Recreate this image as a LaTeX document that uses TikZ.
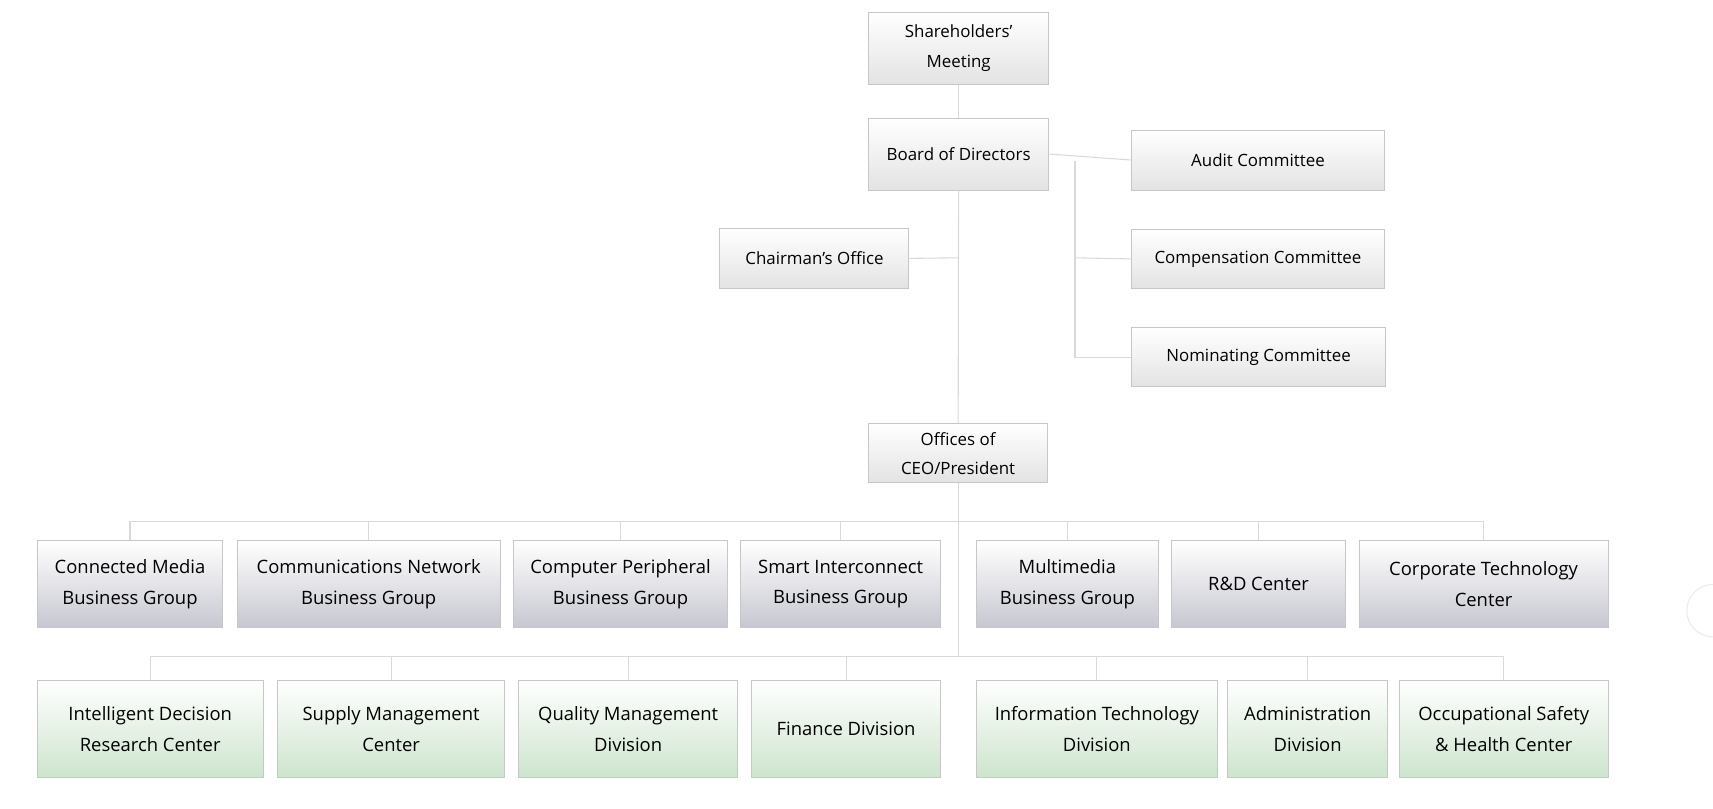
\documentclass[tikz,border=0pt]{standalone}
\usepackage{fontspec}
\setmainfont{Open Sans}
\begin{document}
\begin{tikzpicture}[x=0.025cm,y=-0.025cm,
  bx/.style={draw=black!22,line width=0.6pt,top color=white,bottom color=black!11,align=center,inner sep=0pt,font=\fontsize{11}{19}\selectfont},
  bl/.style={bx,bottom color=blue!10!gray!40!white,font=\fontsize{12}{20}\selectfont},
  gr/.style={bx,bottom color=green!30!gray!30!white,font=\fontsize{12}{20}\selectfont},
  ln/.style={draw=black!15,line width=0.7pt}]
\useasboundingbox (0,0) rectangle (1568,740);
\newcommand\bxat[7]{\node[#1,minimum width={(#4-#3)*0.025cm},minimum height={(#6-#5)*0.025cm}] (#2) at ({(#3+#4)/2},{(#5+#6)/2}) {#7};}
\bxat{bx}{sh}{795}{960}{11}{77}{Shareholders’\\Meeting}
\bxat{bx}{bd}{795}{960}{108}{174}{Board of Directors}
\bxat{bx}{au}{1036}{1267}{119}{174}{Audit Committee}
\bxat{bx}{co}{1036}{1267}{210}{264}{Compensation Committee}
\bxat{bx}{no}{1036}{1268}{300}{354}{Nominating Committee}
\bxat{bx}{ch}{659}{832}{209}{264}{Chairman’s Office}
\bxat{bx}{ceo}{795}{959}{388}{442}{Offices of\\CEO/President}
\bxat{bl}{a1}{34}{204}{495}{574}{Connected Media\\Business Group}
\bxat{bl}{a2}{217}{458}{495}{574}{Communications Network\\Business Group}
\bxat{bl}{a3}{470}{666}{495}{574}{Computer Peripheral\\Business Group}
\bxat{bl}{a4}{678}{861}{495}{574}{Smart Interconnect\\Business Group}
\bxat{bl}{a5}{894}{1060}{495}{574}{Multimedia\\Business Group}
\bxat{bl}{a6}{1072}{1232}{495}{574}{R\&D Center}
\bxat{bl}{a7}{1244}{1472}{495}{574}{Corporate Technology\\Center}
\bxat{gr}{b1}{34}{241}{623}{712}{Intelligent Decision\\Research Center}
\bxat{gr}{b2}{254}{462}{623}{712}{Supply Management\\Center}
\bxat{gr}{b3}{475}{675}{623}{712}{Quality Management\\Division}
\bxat{gr}{b4}{688}{861}{623}{712}{Finance Division}
\bxat{gr}{b5}{894}{1114}{623}{712}{Information Technology\\Division}
\bxat{gr}{b6}{1124}{1270}{623}{712}{Administration\\Division}
\bxat{gr}{b7}{1281}{1472}{623}{712}{Occupational Safety\\\& Health Center}
\coordinate (j1) at (984,147);
\coordinate (t1) at (877,236);
\coordinate (bus1) at (877,477);
\coordinate (bus2) at (877,601);
\begin{scope}[on background layer/.style={}]
\draw[ln] (sh) -- (bd);
\draw[ln] (bd) -- (ceo);
\draw[ln] (ch.east) -- (t1);
\draw[ln] (bd.east) -- (au.west);
\draw[ln] (j1) |- (no.west);
\draw[ln] (984,236) -- (co.west);
\draw[ln] (ceo.south) -- (bus2);
\draw[ln] (a1.north) |- (bus1) -| (a7.north);
\foreach \n in {a2,a3,a4,a5,a6} \draw[ln] (\n.north) -- (\n.north |- bus1);
\draw[ln] (b1.north) |- (bus2) -| (b7.north);
\foreach \n in {b2,b3,b4,b5,b6} \draw[ln] (\n.north) -- (\n.north |- bus2);
\end{scope}
\draw[draw=black!8,line width=0.7pt] (1568,583) arc (90:270:24);
\end{tikzpicture}
\end{document}
